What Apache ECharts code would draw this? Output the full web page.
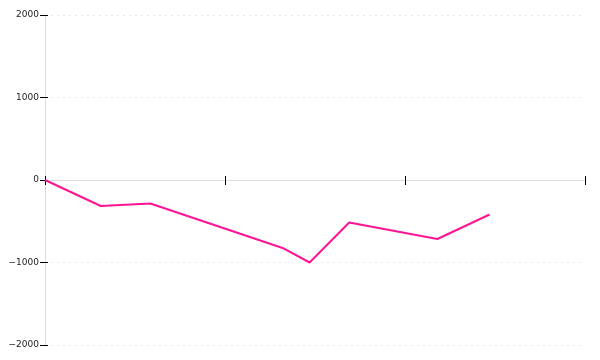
<!DOCTYPE html>
<html>
<head>
<meta charset="utf-8">
<script src="https://cdn.jsdelivr.net/npm/echarts@6/dist/echarts.min.js"></script>
<style>html,body{margin:0;padding:0;background:#fff}#c{width:600px;height:360px}</style>
</head>
<body>
<div id="c"></div>
<script>
var xValues = [0, 3.1, 5.85, 13.2, 14.7, 16.9, 21.8, 24.7];
var yValues = [0, -315, -285, -824, -1000, -515, -715, -418];
var yTicks = [-2000, -1000, 0, 1000, 2000];

var points = xValues.map(function (x, i) { return [x, yValues[i]]; });
var chart = echarts.init(document.getElementById('c'), null, {renderer: 'canvas'});
chart.setOption({
  animation: false,
  grid: {left: 45, right: 15, top: 15, bottom: 15, containLabel: false},
  xAxis: [{
    type: 'value', min: 0, max: 30, interval: 10,
    axisLine: {show: true, onZero: true, lineStyle: {color: '#ddd', width: 1}},
    axisTick: {show: true, length: 5, lineStyle: {color: '#000', width: 1}},
    axisLabel: {show: false},
    splitLine: {show: false}
  }, {
    type: 'value', min: 0, max: 30, interval: 10, position: 'bottom',
    axisLine: {show: false, onZero: true},
    axisTick: {show: true, inside: true, length: 4, lineStyle: {color: '#000', width: 1}},
    axisLabel: {show: false},
    splitLine: {show: false}
  }],
  yAxis: [{
    type: 'value', min: yTicks[0], max: yTicks[yTicks.length - 1], interval: 1000,
    axisLine: {show: true, lineStyle: {color: '#ddd', width: 1}},
    axisTick: {show: true, length: 5, lineStyle: {color: '#000', width: 1}},
    axisLabel: {
      margin: 6, fontFamily: 'DejaVu Sans', fontSize: 9, color: '#222',
      formatter: function (v) { return v < 0 ? '\u2212' + Math.abs(v) : String(v); }
    },
    splitLine: {show: true, lineStyle: {color: '#e8e8e8', type: [2, 4], width: 1}}
  }, {
    type: 'value', min: yTicks[0], max: yTicks[yTicks.length - 1], interval: 1000, position: 'left',
    axisLine: {show: false},
    axisTick: {show: true, inside: true, length: 3, lineStyle: {color: '#000', width: 1}},
    axisLabel: {show: false},
    splitLine: {show: false}
  }],
  series: [{
    type: 'line',
    xAxisIndex: 0, yAxisIndex: 0,
    data: points,
    showSymbol: false,
    symbol: 'none',
    lineStyle: {color: '#ff1493', width: 2},
    itemStyle: {color: '#ff1493'}
  }]
});
</script>
</body>
</html>
